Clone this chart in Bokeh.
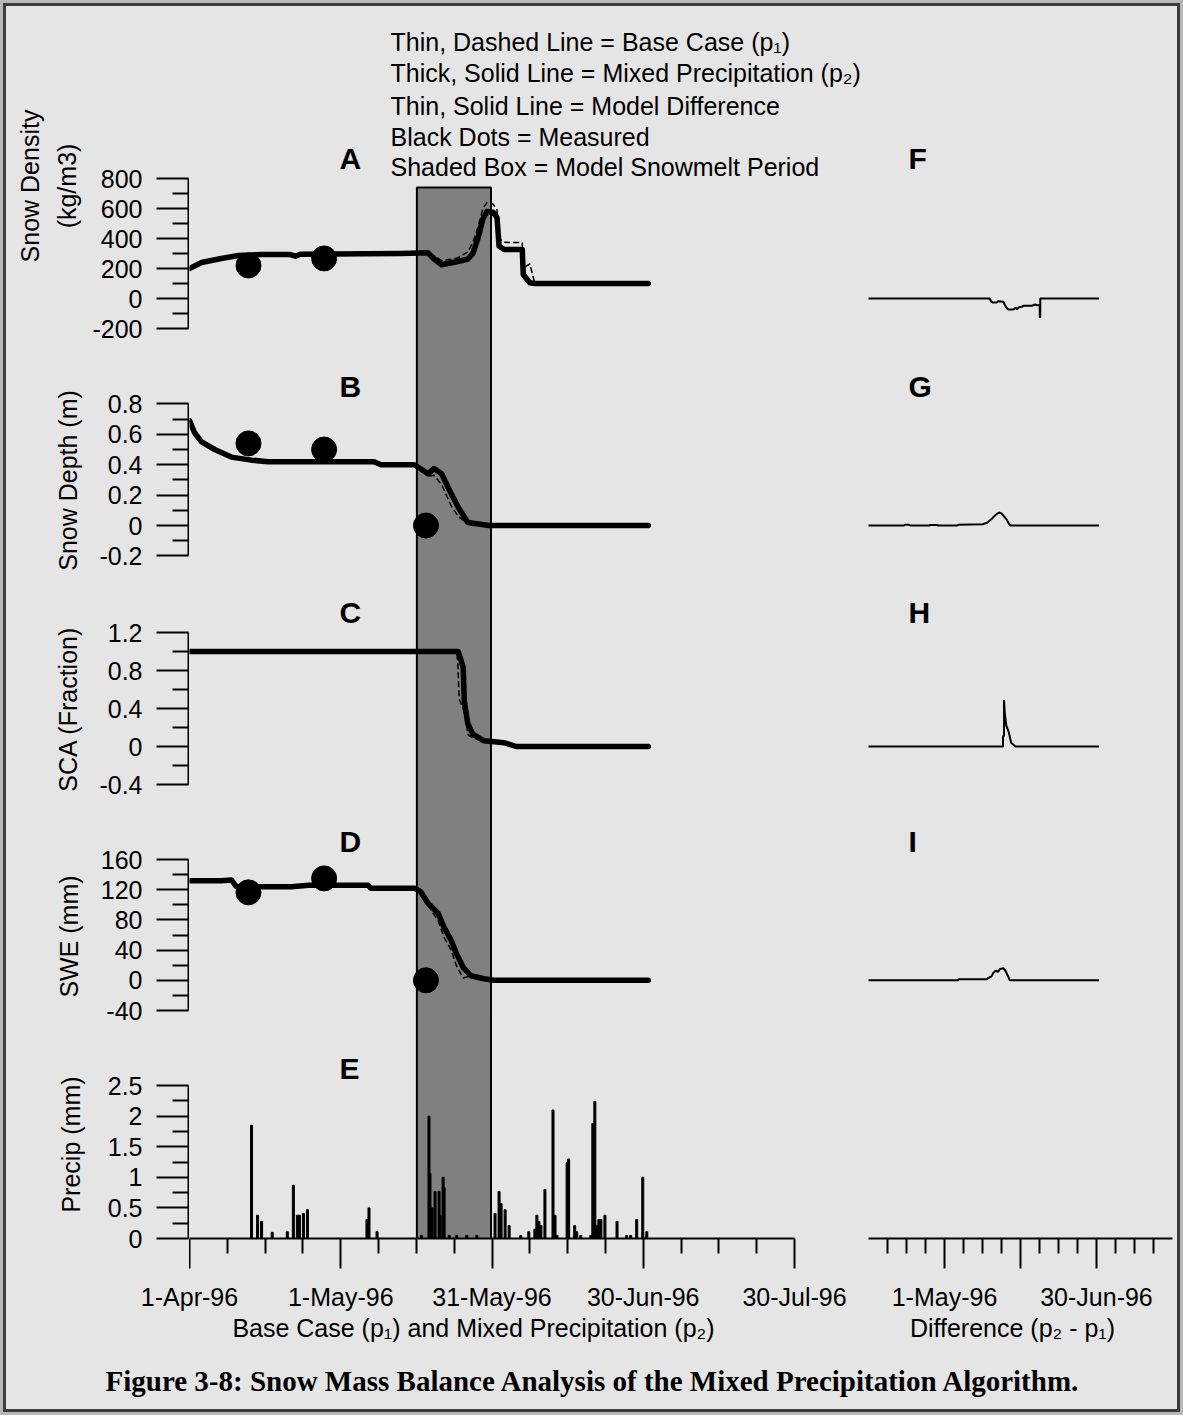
from bokeh.plotting import figure
from bokeh.layouts import column, row
from bokeh.models import Range1d, FixedTicker, Label, LinearAxis
from bokeh.embed import file_html
from bokeh.resources import INLINE

# ---------------- data (days since 1-Apr-96) ----------------
x_tick_days = [0, 30, 60, 90, 120]
x_tick_labels = ["1-Apr-96", "1-May-96", "31-May-96", "30-Jun-96", "30-Jul-96"]
x_minor_days = [7.5, 15, 22.5, 37.5, 45, 52.5, 67.5, 75, 82.5, 97.5, 105, 112.5]
diff_tick_days = [30, 60, 90]
diff_tick_labels = ["1-May-96", "", "30-Jun-96"]

melt_period = [45.1, 59.8]
melt_box_top_density = 740

meas_days = [11.7, 26.7, 46.9]
density_meas = [220, 267]
depth_meas = [0.54, 0.50, 0.0]
swe_meas = [116.5, 135, 0.0]

dens_days = [0, 2.4, 6.3, 9.7, 14.3, 20.0, 21.0, 22.0, 35.0, 42.0, 47.3, 48.3, 50.0, 53.0, 55.2, 56.2,
             57.2, 58.2, 59.0, 60.2, 61.0, 61.4, 62.4, 66.0, 66.2, 67.5, 68.5, 91.0]
dens_p2 = [200, 240, 267, 287, 293, 293, 282, 295, 298, 300, 305, 270, 225, 245, 262, 300,
           400, 530, 580, 575, 540, 350, 327, 327, 160, 105, 100, 100]
dens_p1 = [200, 240, 267, 287, 293, 293, 282, 295, 298, 300, 305, 290, 252, 268, 310, 373,
           473, 600, 640, 630, 590, 400, 375, 372, 205, 230, 100, 100]
dens_diff_days = [0, 47.8, 48.4, 49.2, 50.5, 51.3, 53.2, 54.4, 55.2, 57.2, 58.0, 58.6, 59.4, 60.5,
                  61.3, 64.5, 65.8, 66.6, 67.6, 67.6, 67.8, 67.8, 91.0]
dens_diff = [0, 0, -20, -27, -27, -18, -22, -60, -73, -73, -62, -72, -58, -55,
             -48, -48, -40, -45, -45, -125, -125, 0, 0]

depth_days = [0, 1.0, 2.4, 5.0, 8.3, 12.3, 15.6, 36.6, 38.0, 44.6, 46.0, 47.3, 48.5, 50.0, 51.9,
              53.3, 55.2, 58.4, 59.4, 91.0]
depth_p2 = [0.69, 0.61, 0.55, 0.50, 0.45, 0.43, 0.42, 0.42, 0.40, 0.40, 0.37, 0.34, 0.375, 0.34, 0.21,
            0.12, 0.02, 0.005, 0.0, 0.0]
depth_p1 = [0.69, 0.61, 0.55, 0.50, 0.45, 0.43, 0.42, 0.42, 0.40, 0.40, 0.365, 0.325, 0.33, 0.27, 0.13,
            0.06, 0.01, 0.005, 0.0, 0.0]
depth_diff_days = [0, 14.0, 14.5, 16.0, 16.5, 24.0, 24.5, 27.0, 27.5, 35.0, 35.5, 45.0, 47.0, 49.0,
                   50.5, 51.5, 52.5, 53.5, 54.5, 55.5, 56.0, 91.0]
depth_diff = [0, 0, 0.005, 0.005, 0, 0, 0.004, 0.004, 0, 0, 0.005, 0.008, 0.02, 0.05,
              0.075, 0.085, 0.08, 0.06, 0.04, 0.01, 0, 0]

sca_p2_days = [0, 53.3, 54.3, 54.5, 55.2, 56.2, 58.4, 62.4, 64.8, 91.0]
sca_p2 = [1.0, 1.0, 0.83, 0.48, 0.24, 0.13, 0.06, 0.04, 0.0, 0.0]
sca_p1_days = [0, 53.0, 53.2, 53.5, 54.4, 55.3, 56.3, 58.0, 62.4, 64.8, 91.0]
sca_p1 = [1.0, 1.0, 0.89, 0.5, 0.38, 0.12, 0.09, 0.06, 0.04, 0.0, 0.0]
sca_diff_days = [0, 53.1, 53.1, 53.5, 53.5, 53.8, 54.4, 55.4, 56.3, 58.0, 91.0]
sca_diff = [0, 0, 0.11, 0.11, 0.49, 0.35, 0.22, 0.15, 0.04, 0, 0]

swe_days = [0, 6.3, 8.3, 9.3, 20.2, 23.6, 35.4, 36.0, 44.6, 45.9, 47.3, 49.3, 50.5, 51.9, 52.9,
            54.3, 55.8, 58.4, 60.4, 91.0]
swe_p2 = [132, 132, 133, 124, 124, 126, 126, 122, 122, 117, 102, 89, 70, 53, 36, 17, 6, 2, 0, 0]
swe_p1 = [132, 132, 133, 124, 124, 126, 126, 120.5, 120.5, 115.5, 99, 79, 57, 40, 20, 3, 6, 2, 0, 0]
swe_diff_days = [0, 35.5, 35.5, 46.8, 47.2, 48.5, 49.3, 50.3, 51.0, 52.0, 53.2, 54.0, 55.0, 55.8, 91.0]
swe_diff = [0, 0, 1.5, 1.5, 3, 5, 10, 13, 11, 15, 16, 13, 6, 0, 0]

precip_days = [12.3, 13.5, 14.3, 16.4, 19.4, 20.6, 21.4, 21.8, 22.6, 23.4, 35.2, 35.6, 37.2, 46.0,
               47.5, 47.7, 48.1, 48.7, 49.5, 49.7, 50.3, 50.5, 51.5, 53.0, 55.0, 57.0, 60.6, 61.4,
               61.8, 62.6, 63.4, 65.7, 67.3, 68.5, 68.9, 69.3, 69.7, 70.5, 72.1, 72.5, 72.9, 74.9,
               75.2, 76.4, 76.8, 77.6, 79.6, 80.0, 80.4, 80.8, 81.2, 81.6, 82.4, 84.8, 86.7, 87.5,
               88.7, 89.9, 90.7]
precip_mm = [1.85, 0.38, 0.28, 0.10, 0.11, 0.87, 0.38, 0.38, 0.41, 0.47, 0.31, 0.50, 0.11, 0.05,
             2.00, 1.06, 0.50, 0.77, 0.77, 0.38, 1.00, 0.83, 0.05, 0.05, 0.05, 0.05, 0.41, 0.77,
             0.57, 0.47, 0.21, 0.05, 0.11, 0.15, 0.38, 0.28, 0.21, 0.80, 2.10, 0.38, 0.05, 1.24,
             1.30, 0.21, 0.11, 0.05, 0.05, 1.88, 2.24, 0.21, 0.31, 0.31, 0.38, 0.28, 0.05, 0.05,
             0.31, 1.00, 0.11]

dens_ticks = [-200, 0, 200, 400, 600, 800]
dens_tick_labels = ["-200", "0", "200", "400", "600", "800"]
dens_minor = [-100, 100, 300, 500, 700]
depth_ticks = [-0.2, 0, 0.2, 0.4, 0.6, 0.8]
depth_tick_labels = ["-0.2", "0", "0.2", "0.4", "0.6", "0.8"]
depth_minor = [-0.1, 0.1, 0.3, 0.5, 0.7]
sca_ticks = [-0.4, 0, 0.4, 0.8, 1.2]
sca_tick_labels = ["-0.4", "0", "0.4", "0.8", "1.2"]
sca_minor = [-0.2, 0.2, 0.6, 1.0]
swe_ticks = [-40, 0, 40, 80, 120, 160]
swe_tick_labels = ["-40", "0", "40", "80", "120", "160"]
swe_minor = [-20, 20, 60, 100, 140]
precip_ticks = [0, 0.5, 1, 1.5, 2, 2.5]
precip_tick_labels = ["0", "0.5", "1", "1.5", "2", "2.5"]
precip_minor = [0.25, 0.75, 1.25, 1.75, 2.25]

legend_lines = ["Thin, Dashed Line = Base Case (p\u2081)",
                "Thick, Solid Line = Mixed Precipitation (p\u2082)",
                "Thin, Solid Line = Model Difference",
                "Black Dots = Measured",
                "Shaded Box = Model Snowmelt Period"]
x_title_left = "Base Case (p\u2081) and Mixed Precipitation (p\u2082)"
x_title_right = "Difference (p\u2082 - p\u2081)"
caption = "Figure 3-8: Snow Mass Balance Analysis of the Mixed Precipitation Algorithm."

# ---------------- layout geometry (page pixels) ----------------
BG = "#e5e5e5"
FONT = "Liberation Sans"
FS = "25px"
X0, AXIS_X, SPLIT, X1 = 6, 188, 866, 1177
DAY0_L = AXIS_X + 1          # px of day 0, left panels
Y0, PLOT_BOTTOM, TICK_BOTTOM, LAB_FRAME, LAB_BOTTOM, Y1 = 6, 1238, 1272, 1278, 1313, 1409
PXD_L = (794 - DAY0_L) / 120.0
DAY0_R = 868                 # px of day 0, right panels
PXD_R = 152 / 60.0
# panel name -> (page y of value 0, px per unit)
panel_map = {"dens": (298, 0.15), "depth": (525, 152.0), "sca": (746, 95.0),
             "swe": (979.8, 0.755), "precip": (1238, 61.2)}
axis_rows = [("dens", 6, 365, 365), ("depth", 365, 595, 595), ("sca", 595, 822, 822),
             ("swe", 822, 1050, 1050), ("precip", 1050, TICK_BOTTOM, PLOT_BOTTOM)]

XR_L = (0, (SPLIT - DAY0_L) / PXD_L)
XR_R = ((SPLIT - DAY0_R) / PXD_R, (X1 - DAY0_R) / PXD_R)


def yr_for(name, top, bottom):
    y0, k = panel_map[name]
    return ((y0 - bottom) / k, (y0 - top) / k)


def base_fig(width, height, xr, yr, left=0, bottom=0):
    p = figure(width=width, height=height, x_range=Range1d(*xr), y_range=Range1d(*yr),
               output_backend="svg", toolbar_location=None,
               x_axis_location=None, y_axis_location=None,
               min_border=0, min_border_left=left, min_border_bottom=bottom,
               min_border_right=0, min_border_top=0)
    p.background_fill_color = BG
    p.border_fill_color = BG
    p.outline_line_color = None
    p.grid.visible = False
    return p


def style_axis(ax):
    ax.axis_line_color = "black"
    ax.axis_line_width = 2
    ax.major_tick_line_color = "black"
    ax.major_tick_line_width = 2
    ax.minor_tick_line_color = "black"
    ax.minor_tick_line_width = 2
    ax.major_tick_in = 0
    ax.minor_tick_in = 0
    ax.major_label_text_font = FONT
    ax.major_label_text_font_size = FS
    ax.major_label_text_color = "black"
    ax.axis_label_text_font = FONT
    ax.axis_label_text_font_size = FS
    ax.axis_label_text_font_style = "normal"
    ax.axis_label_text_color = "black"


def add_yaxis(p, ticks, labels, minor, label, standoff):
    ax = LinearAxis(ticker=FixedTicker(ticks=ticks, minor_ticks=minor),
                    bounds=(ticks[0], ticks[-1]),
                    major_label_overrides={t: s for t, s in zip(ticks, labels)},
                    axis_label=label)
    style_axis(ax)
    ax.major_tick_out = 32
    ax.minor_tick_out = 16
    ax.major_label_standoff = 14
    ax.axis_label_standoff = standoff
    ax.axis_label_text_line_height = 1.35
    p.add_layout(ax, "left")


def add_xaxis_ticks(p, ticks, minor):
    # axis line and tick marks only (labels live in their own strip below)
    ax = LinearAxis(ticker=FixedTicker(ticks=ticks, minor_ticks=minor), bounds=(0, 120),
                    major_label_overrides={t: "" for t in ticks})
    style_axis(ax)
    ax.major_tick_out = 30
    ax.minor_tick_out = 15
    ax.major_label_standoff = 0
    ax.major_label_text_font_size = "1px"
    p.add_layout(ax, "below")


def add_xaxis_labels(p, ticks, labels):
    ax = LinearAxis(ticker=FixedTicker(ticks=ticks), bounds=(0, 120),
                    major_label_overrides={t: s for t, s in zip(ticks, labels)})
    style_axis(ax)
    ax.axis_line_color = None
    ax.major_tick_line_color = None
    ax.minor_tick_line_color = None
    ax.major_tick_out = 0
    ax.minor_tick_out = 0
    ax.major_label_standoff = 6
    p.add_layout(ax, "below")


def text_label(p, txt, x, y, size=FS, bold=False, align="left", font=FONT, xr="px"):
    # y is the vertical centre of the text line (page pixels)
    p.add_layout(Label(x=x, y=y, x_range_name=xr, text=txt,
                       text_font=font, text_font_size=size,
                       text_font_style="bold" if bold else "normal",
                       text_align=align, text_baseline="middle", text_color="black"))


# ---------- y-axis strips (one per panel) ----------
axis_specs = {
    "dens": (dens_ticks, dens_tick_labels, dens_minor, "Snow Density\n(kg/m3)", 8),
    "depth": (depth_ticks, depth_tick_labels, depth_minor, "Snow Depth (m)", 14),
    "sca": (sca_ticks, sca_tick_labels, sca_minor, "SCA (Fraction)", 14),
    "swe": (swe_ticks, swe_tick_labels, swe_minor, "SWE (mm)", 15),
    "precip": (precip_ticks, precip_tick_labels, precip_minor, "Precip (mm)", 20),
}
axis_figs = []
for name, top, bottom, fbottom in axis_rows:
    af = base_fig(AXIS_X + 1 - X0, bottom - top, (0, 1), yr_for(name, top, fbottom),
                  left=AXIS_X - X0, bottom=bottom - fbottom)
    add_yaxis(af, *axis_specs[name])
    axis_figs.append(af)

# ---------- main left plot (panels A-E) and right plot (F-I) ----------
pL = base_fig(SPLIT - DAY0_L, TICK_BOTTOM - Y0, XR_L, (PLOT_BOTTOM, Y0),
              bottom=TICK_BOTTOM - PLOT_BOTTOM)
pL.extra_x_ranges = {"px": Range1d(DAY0_L, SPLIT)}
pL.extra_y_ranges = {n: Range1d(*yr_for(n, Y0, PLOT_BOTTOM)) for n in panel_map}

pR = base_fig(X1 - SPLIT, TICK_BOTTOM - Y0, XR_R, (PLOT_BOTTOM, Y0),
              bottom=TICK_BOTTOM - PLOT_BOTTOM)
pR.extra_x_ranges = {"px": Range1d(SPLIT, X1)}
pR.extra_y_ranges = {n: Range1d(*yr_for(n, Y0, PLOT_BOTTOM)) for n in panel_map}

# shaded melt box (from density 740 down to the frame bottom)
dens_start = pL.extra_y_ranges["dens"].start
pL.quad(left=[melt_period[0]], right=[melt_period[1]], bottom=[dens_start - 50],
        top=[melt_box_top_density], y_range_name="dens",
        fill_color="#808080", line_color="black", line_width=2)

LW = 5.5
DW = 1.5
for rn, d2, v2, d1, v1 in [("dens", dens_days, dens_p2, dens_days, dens_p1),
                           ("depth", depth_days, depth_p2, depth_days, depth_p1),
                           ("sca", sca_p2_days, sca_p2, sca_p1_days, sca_p1),
                           ("swe", swe_days, swe_p2, swe_days, swe_p1)]:
    pL.line(d2, v2, y_range_name=rn, line_width=LW, line_color="black",
            line_cap="round", line_join="round")
    pL.line(d1, v1, y_range_name=rn, line_width=DW, line_color="black", line_dash="6 3")

pL.scatter(meas_days[:2], density_meas, y_range_name="dens", size=25, color="black")
pL.scatter(meas_days, depth_meas, y_range_name="depth", size=25, color="black")
pL.scatter(meas_days, swe_meas, y_range_name="swe", size=25, color="black")
pL.vbar(x=precip_days, top=precip_mm, bottom=0, width=0.4, y_range_name="precip", color="black")

for rn, d, v in [("dens", dens_diff_days, dens_diff), ("depth", depth_diff_days, depth_diff),
                 ("sca", sca_diff_days, sca_diff), ("swe", swe_diff_days, swe_diff)]:
    pR.line(d, v, y_range_name=rn, line_width=2, line_color="black")

add_xaxis_ticks(pL, x_tick_days, x_minor_days)
add_xaxis_ticks(pR, diff_tick_days, x_minor_days)

for t, y in [("A", 158), ("B", 386), ("C", 612), ("D", 841), ("E", 1068)]:
    text_label(pL, t, 339, y, size="30px", bold=True)
for t, y in [("F", 158), ("G", 386), ("H", 612), ("I", 841)]:
    text_label(pR, t, 908, y, size="30px", bold=True)
for txt, y in zip(legend_lines, [41, 72, 105, 136, 166]):
    text_label(pL, txt, 390, y)

# ---------- date tick-label strips (full width so edge labels are not cut) ----------
LAB_H = LAB_BOTTOM - TICK_BOTTOM
pXL = base_fig(SPLIT - X0, LAB_H, XR_L, (0, 1), left=DAY0_L - X0, bottom=LAB_BOTTOM - LAB_FRAME)
add_xaxis_labels(pXL, x_tick_days, x_tick_labels)
pXR = base_fig(X1 - SPLIT, LAB_H, XR_R, (0, 1), bottom=LAB_BOTTOM - LAB_FRAME)
add_xaxis_labels(pXR, diff_tick_days, diff_tick_labels)

# ---------- footer with axis titles and caption ----------
pFoot = base_fig(X1 - X0, Y1 - LAB_BOTTOM, (X0, X1), (Y1, LAB_BOTTOM))
text_label(pFoot, x_title_left, 473, 1327, align="center", xr="default")
text_label(pFoot, x_title_right, 1012, 1327, align="center", xr="default")
text_label(pFoot, caption, 593, 1380, size="29px", bold=True, align="center",
           font="Liberation Serif", xr="default")

layout = column(row(column(*axis_figs), pL, pR), row(pXL, pXR), pFoot,
                styles={"margin": "3px", "border": "3px solid #3c3c3c",
                        "box-shadow": "0 0 0 3px #b8b8b8", "background-color": BG})

open("out.html", "w").write(file_html(layout, INLINE))
